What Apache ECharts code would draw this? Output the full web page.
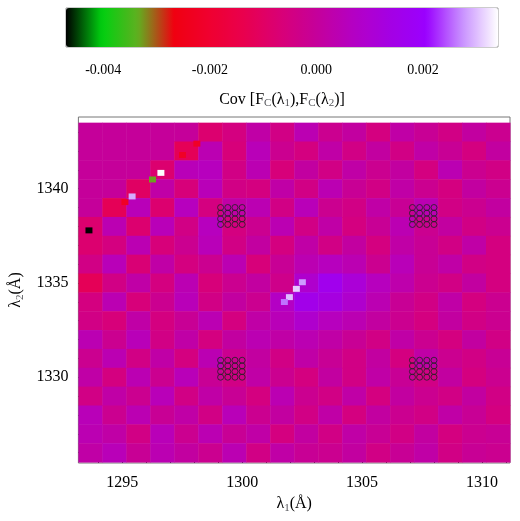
<!DOCTYPE html>
<html>
<head>
<meta charset="utf-8">
<script src="https://cdn.jsdelivr.net/npm/echarts@6/dist/echarts.min.js"></script>
<style>
html, body { margin: 0; padding: 0; background: #fff; }
#chart { width: 520px; height: 521px; }
</style>
</head>
<body>
<div id="chart"></div>
<script>
// cell centres (Angstrom), 1 A cells
var lambda1 = [1293.67, 1294.67, 1295.67, 1296.67, 1297.67, 1298.67, 1299.67, 1300.67, 1301.67,
	1302.67, 1303.67, 1304.67, 1305.67, 1306.67, 1307.67, 1308.67, 1309.67, 1310.67];
var lambda2 = [1343, 1342, 1341, 1340, 1339, 1338, 1337, 1336, 1335, 1334, 1333, 1332, 1331, 1330,
	1329, 1328, 1327, 1326];
// covariance in units of 1e-4, rows from top (1343) to bottom (1326)
var covRows = [
	[0, 0, 0, 0, 0, -8, -5, 2, -4, 4, -2, 1, -5, 2, -1, -4, 1, -2],
	[0, 0, 0, 0, -12, 4, -6, 5, -2, -5, 2, -4, 1, -4, 2, -1, -5, 1],
	[0, 0, 0, -8, 5, 6, -4, 4, -6, 1, -4, 2, -2, 1, -5, 4, -2, -4],
	[0, 0, -10, 2, -6, 5, -4, -5, 2, -4, 4, -1, -4, 2, -2, -5, 1, -2],
	[0, -12, 5, -8, 6, -5, 2, 4, -4, 5, -2, -4, 2, -1, 4, -4, -2, 1],
	[-8, 4, -8, 5, -4, 6, -5, -2, 4, -4, 2, -5, -1, 4, -2, 1, -4, -2],
	[-8, -5, 4, -6, -2, 5, -4, 1, -5, 2, -4, 1, -5, 2, -1, -4, 2, -5],
	[-4, 5, -7, 2, -5, -2, 4, -6, -1, 4, 6, 4, -2, 5, -1, 2, -4, -5],
	[-12, -4, 2, -5, 4, -6, -2, 1, -3, 9, 16, 11, 6, 3, -2, -4, 1, -5],
	[-5, 4, -6, -2, 5, -4, 1, -2, 7, 15, 13, 9, 4, -1, -4, 2, -5, -2],
	[-4, -6, 2, -5, -1, 4, -5, 2, 5, 9, 6, 4, 1, -2, -5, 1, -4, -2],
	[4, -2, 5, -4, 2, -5, 1, 4, 2, 4, 2, -1, -4, 2, -2, -5, 1, -4],
	[-2, 4, -4, 2, -5, 4, -2, 1, -4, 2, -1, -4, 1, -5, 2, -2, -4, -1],
	[2, -5, 4, -2, 5, -1, -4, 2, -2, -5, 1, -4, 2, -1, -4, 1, -5, -2],
	[-4, 2, -2, 5, -4, 2, -1, -5, 4, -2, -4, 2, -5, 1, -2, -4, 1, -4],
	[5, -2, 4, -1, 2, -4, 5, -2, 1, -4, 2, -5, 1, -2, -4, 2, -1, -5],
	[4, 2, -4, 5, -2, 4, -1, 2, -5, 1, -4, 2, -1, -4, 1, -5, -2, -1],
	[2, 5, -1, 4, 1, -2, 4, -4, 2, -1, -2, 1, -4, -1, 2, -4, -1, -2]
];
// single detector pixels that stand out [lambda1, lambda2, cov*1e4]
var spikes = [
	[1293.6, 1337.8, -47], [1296.25, 1340.5, -33], [1296.6, 1340.85, 34], [1295.4, 1339.6, 29],
	[1295.1, 1339.3, -22], [1297.5, 1341.8, -22], [1298.1, 1342.4, -22],
	[1301.96, 1334.26, 30], [1302.25, 1334.7, 31], [1302.5, 1335.05, 28], [1301.75, 1334.0, 26]
];
var circleX = [1299.1, 1299.4, 1299.7, 1300.0, 1307.1, 1307.4, 1307.7, 1308.0];
var circleY = [1338.1, 1338.4, 1338.7, 1339.0, 1330.0, 1330.3, 1330.6, 1330.9];
var cbTicks = [-0.004, -0.003, -0.002, -0.001, 0, 0.001, 0.002, 0.003];
var cbLabels = [-0.004, -0.002, 0, 0.002];

var cells = [];
for (var j = 0; j < lambda2.length; j++) {
	for (var i = 0; i < lambda1.length; i++) {
		cells.push([lambda1[i], lambda2[j], covRows[j][i] * 1e-4, 1, 1]);
	}
}
for (var k = 0; k < spikes.length; k++) {
	cells.push([spikes[k][0], spikes[k][1], spikes[k][2] * 1e-4, 0.27, 0.29]);
}
var circles = [];
for (var g = 0; g < 2; g++) {
	for (var h = 0; h < 2; h++) {
		for (var a = 0; a < 4; a++) {
			for (var b = 0; b < 4; b++) {
				circles.push([circleX[g * 4 + a], circleY[h * 4 + b]]);
			}
		}
	}
}

var font = 'Liberation Serif';
var sub = { fontFamily: font, fontSize: 11, verticalAlign: 'bottom', padding: [8, 0, 0, 0] };
var intTicks = [];
for (var t = 1294; t <= 1311; t++) intTicks.push(t);
var intTicksY = [];
for (var t2 = 1326; t2 <= 1343; t2++) intTicksY.push(t2);
function plain(v) { return String(v); }

var chart = echarts.init(document.getElementById('chart'));
var option = {
	animation: false,
	textStyle: { fontFamily: font },
	grid: [
		{ left: 74, right: 10, top: 117, bottom: 58, show: true, borderColor: '#777', borderWidth: 1 },
		{ left: 66, width: 432, top: 8, height: 39, show: true, borderColor: '#999', borderWidth: 1 }
	],
	visualMap: {
		type: 'continuous',
		min: -0.0047, max: 0.00341,
		seriesIndex: 0, dimension: 2,
		orient: 'horizontal',
		left: 66, top: 8, itemHeight: 432, itemWidth: 39,
		padding: 0, calculable: false, text: null, showLabel: false,
		inRange: {
			color: ['#000000', '#00d010', '#60b020', '#f00010', '#f00030', '#e80050', '#d80078',
				'#c4009c', '#b400c4', '#a400e4', '#9a00ff', '#c890ff', '#ffffff']
		}
	},
	xAxis: [
		{
			type: 'value', gridIndex: 0, min: 1293.17, max: 1311.17,
			name: '{n|λ}{s|1}{n|(Å)}', nameLocation: 'middle', nameGap: 30,
			nameTextStyle: { rich: { n: { fontFamily: font, fontSize: 16, color: '#000' }, s: sub } },
			axisLine: { show: false }, splitLine: { show: false },
			axisTick: { inside: true, length: 4, customValues: intTicks, lineStyle: { color: '#333' } },
			axisLabel: { customValues: [1295, 1300, 1305, 1310], formatter: plain, fontFamily: font, fontSize: 16, color: '#000', margin: 12 }
		},
		{
			type: 'value', gridIndex: 1, min: -0.0047, max: 0.00341,
			name: '{n|Cov [F}{s|C}{n|(λ}{s|1}{n|),F}{s|C}{n|(λ}{s|2}{n|)]}',
			nameLocation: 'middle', nameGap: 43,
			nameTextStyle: { rich: { n: { fontFamily: font, fontSize: 16, color: '#000' }, s: sub } },
			axisLine: { show: false }, splitLine: { show: false },
			axisTick: { inside: true, length: 6, customValues: cbTicks, lineStyle: { color: '#666' } },
			axisLabel: {
				customValues: cbLabels, fontFamily: font, fontSize: 14, color: '#000', margin: 16,
				formatter: function (v) { return v.toFixed(3); }
			}
		}
	],
	yAxis: [
		{
			type: 'value', gridIndex: 0, min: 1325.45, max: 1343.8,
			name: '{n|λ}{s|2}{n|(Å)}', nameLocation: 'middle', nameGap: 48,
			nameTextStyle: { rich: { n: { fontFamily: font, fontSize: 16, color: '#000' }, s: sub } },
			axisLine: { show: false }, splitLine: { show: false },
			axisTick: { inside: true, length: 4, customValues: intTicksY, lineStyle: { color: '#333' } },
			axisLabel: { customValues: [1330, 1335, 1340], formatter: plain, fontFamily: font, fontSize: 16, color: '#000', margin: 10 }
		},
		{
			type: 'value', gridIndex: 1, min: 0, max: 1,
			axisLine: { show: false }, axisTick: { show: false }, axisLabel: { show: false }, splitLine: { show: false }
		}
	],
	series: [
		{
			type: 'custom', xAxisIndex: 0, yAxisIndex: 0, data: cells,
			clip: true,
			renderItem: function (params, api) {
				var p = api.coord([api.value(0), api.value(1)]);
				var s = api.size([api.value(3), api.value(4)]);
				return {
					type: 'rect',
					shape: { x: p[0] - s[0] / 2, y: p[1] - s[1] / 2, width: s[0] + 0.5, height: s[1] + 0.5 },
					style: { fill: api.visual('color') }
				};
			}
		},
		{
			type: 'scatter', xAxisIndex: 0, yAxisIndex: 0, data: circles,
			symbol: 'circle', symbolSize: 6,
			itemStyle: { color: 'rgba(0,0,0,0)', borderColor: '#222', borderWidth: 1 }
		}
	]
};
chart.setOption(option);
</script>
</body>
</html>
